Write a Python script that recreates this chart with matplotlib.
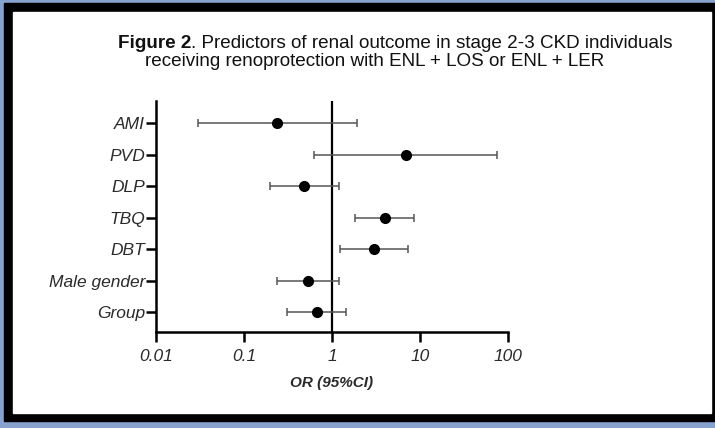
import matplotlib.pyplot as plt
from matplotlib.patches import Rectangle

# forest plot values (top to bottom)
labels = ['AMI', 'PVD', 'DLP', 'TBQ', 'DBT', 'Male gender', 'Group']
odds = [0.24, 6.9, 0.48, 4.0, 3.0, 0.53, 0.67]
ci_low = [0.030, 0.62, 0.197, 1.83, 1.23, 0.237, 0.31]
ci_high = [1.92, 75.0, 1.2, 8.5, 7.3, 1.2, 1.44]
xticks = [0.01, 0.1, 1, 10, 100]
xticklabels = ['0.01', '0.1', '1', '10', '100']

plt.rcParams['font.family'] = ['Liberation Sans', 'DejaVu Sans']

W, H = 715, 428
fig = plt.figure(figsize=(7.15, 4.28), dpi=100)
fig.patch.set_facecolor('#86a2cd')
# black frame + white panel (pixel coords -> figure fraction)
fig.patches.append(Rectangle((4 / W, 1 - 421 / H), (715 - 4) / W, (421 - 3) / H,
                             transform=fig.transFigure, color='black', zorder=-2))
fig.patches.append(Rectangle((13 / W, 1 - 413 / H), (711 - 13) / W, (413 - 12) / H,
                             transform=fig.transFigure, color='white', zorder=-1))

# title: bold "Figure 2" followed by regular text
tsize = 13.6
r = fig.canvas.get_renderer()
bold = fig.text(118 / W, 1 - 43 / H, 'Figure 2', fontsize=tsize, fontweight='bold',
                va='center', ha='left', color='#111111')
bb = bold.get_window_extent(renderer=r)
fig.text(bb.x1 / W, 1 - 43 / H, '. Predictors of renal outcome in stage 2-3 CKD individuals',
         fontsize=tsize, va='center', ha='left', color='#111111')
fig.text(145 / W, 1 - 62 / H, 'receiving renoprotection with ENL + LOS or ENL + LER',
         fontsize=tsize, va='center', ha='left', color='#111111')

ax = fig.add_axes([156 / W, 1 - 332 / H, (508 - 156) / W, (332 - 101) / H])
ax.set_facecolor('none')

ypos = list(range(len(labels)))[::-1]
xerr = [[o - lo for o, lo in zip(odds, ci_low)], [hi - o for o, hi in zip(odds, ci_high)]]
ax.errorbar(odds, ypos, xerr=xerr, fmt='o', color='black', ms=7,
            ecolor='#555555', elinewidth=1.1, capsize=3, capthick=1.1, zorder=3)
ax.axvline(1, color='black', lw=1.6, zorder=2)

ax.set_xscale('log')
ax.set_xlim(0.01, 100)
ax.set_ylim(-0.63, 6.7)
ax.set_xticks(xticks)
ax.set_xticklabels(xticklabels)
ax.minorticks_off()
ax.set_yticks(ypos)
ax.set_yticklabels(labels)
for lab in ax.get_xticklabels() + ax.get_yticklabels():
    lab.set_fontstyle('italic')
    lab.set_fontsize(12.5)
    lab.set_color('#2a2a2a')

ax.spines['top'].set_visible(False)
ax.spines['right'].set_visible(False)
for s in ['left', 'bottom']:
    ax.spines[s].set_linewidth(1.8)
ax.tick_params(axis='both', direction='out', length=7, width=1.8, color='black')
ax.tick_params(axis='y', pad=1)
ax.tick_params(axis='x', pad=5)
ax.set_xlabel('OR (95%CI)', fontsize=11, fontweight='bold', fontstyle='italic',
              color='#2a2a2a', labelpad=9)

fig.savefig('out.png', dpi=100, facecolor=fig.get_facecolor())
